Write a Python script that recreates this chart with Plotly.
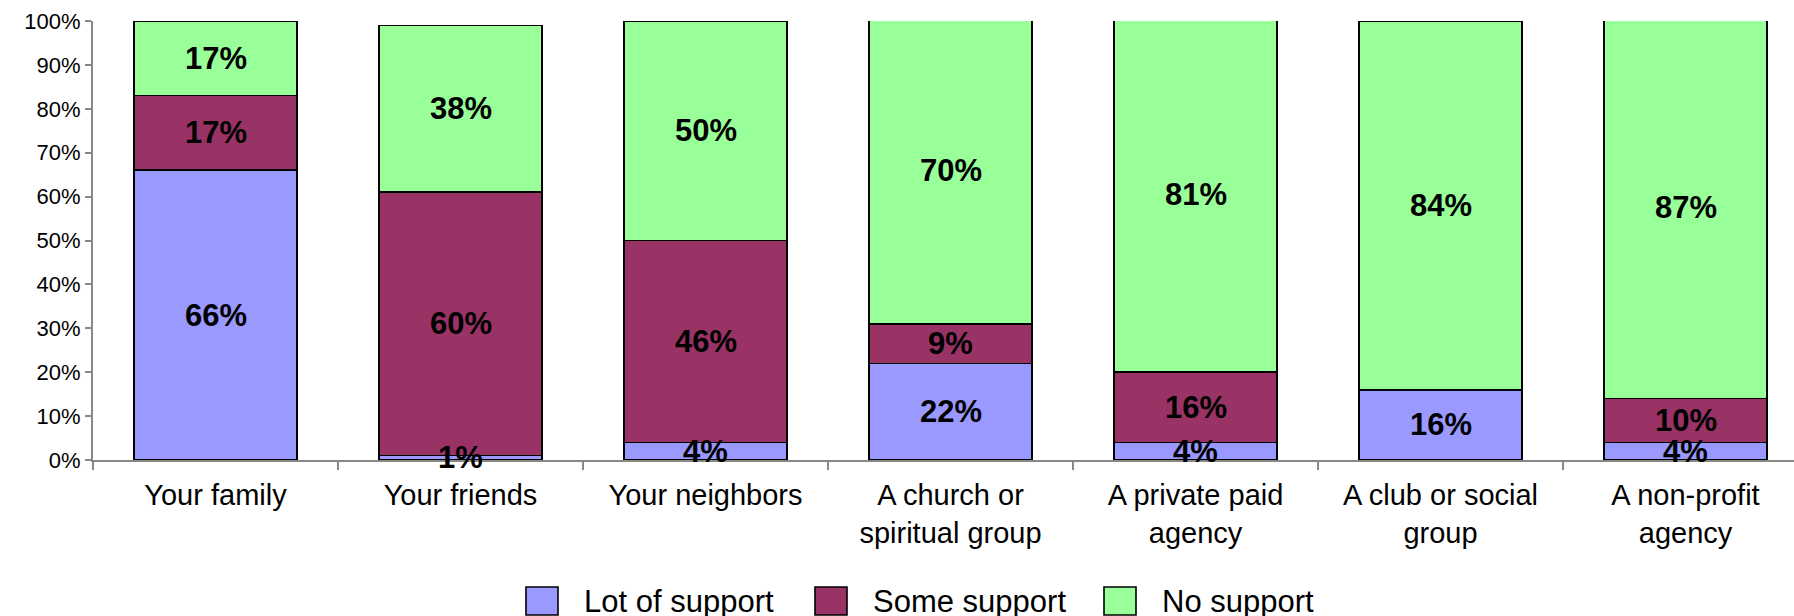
import plotly.graph_objects as go

# Survey: how much support each source gives
categories = [
    "Your family",
    "Your friends",
    "Your neighbors",
    "A church or<br>spiritual group",
    "A private paid<br>agency",
    "A club or social<br>group",
    "A non-profit<br>agency",
]
series_names = ["Lot of support", "Some support", "No support"]
lot_of_support = [66, 1, 4, 22, 4, 16, 4]
some_support = [17, 60, 46, 9, 16, 0, 10]
no_support = [17, 38, 50, 70, 81, 84, 87]
series_values = [lot_of_support, some_support, no_support]
series_colors = ["#9999FF", "#993366", "#99FF99"]

FONT = "Liberation Sans, Arial, sans-serif"
W, H = 1794, 616
M_L, M_R, M_T, M_B = 93, 0, 21, 156
plot_w = W - M_L - M_R
plot_h = H - M_T - M_B
cat_px = 245.0  # width of one category slot

fig = go.Figure()
for name, vals, color in zip(series_names, series_values, series_colors):
    fig.add_trace(go.Bar(
        x=categories,
        y=[v / 100 for v in vals],
        name=name,
        marker=dict(color=color, line=dict(color="#000000", width=1.6)),
        showlegend=False,
        hoverinfo="skip",
    ))

# value labels centred in each segment
annotations = []
base = [0.0] * len(categories)
for vals in series_values:
    for i, v in enumerate(vals):
        frac = v / 100
        if v > 0:
            annotations.append(dict(
                x=categories[i], y=base[i] + frac / 2, xref="x", yref="y",
                text=f"{v}%", showarrow=False,
                font=dict(family=FONT, size=31, color="#000000", weight="bold"),
            ))
        base[i] += frac

# legend drawn as large swatches with labels
shapes = []
legend_left_px = [526, 815, 1104]
sw_w, sw_h, sw_top = 32, 28, 587
for name, color, lx in zip(series_names, series_colors, legend_left_px):
    x0 = (lx - M_L) / plot_w
    x1 = (lx + sw_w - M_L) / plot_w
    y_top = (M_T + plot_h - sw_top) / plot_h
    y_bot = (M_T + plot_h - sw_top - sw_h) / plot_h
    shapes.append(dict(type="rect", xref="paper", yref="paper",
                       x0=x0, x1=x1, y0=y_bot, y1=y_top,
                       fillcolor=color, line=dict(color="#000000", width=1.6)))
    annotations.append(dict(
        x=(lx + sw_w + 24 - M_L) / plot_w,
        y=(M_T + plot_h - sw_top - sw_h / 2) / plot_h,
        xref="paper", yref="paper", xanchor="left", yanchor="middle",
        text=name, showarrow=False,
        font=dict(family=FONT, size=31, color="#000000"),
    ))

fig.update_layout(
    width=W, height=H,
    margin=dict(l=M_L, r=M_R, t=M_T, b=M_B, pad=0),
    barmode="stack",
    bargap=0.335,
    plot_bgcolor="#FFFFFF",
    paper_bgcolor="#FFFFFF",
    font=dict(family=FONT, color="#000000"),
    annotations=annotations,
    shapes=shapes,
    showlegend=False,
)
fig.update_xaxes(
    type="category",
    range=[-0.5, -0.5 + plot_w / cat_px],
    tickson="boundaries",
    ticks="outside", ticklen=8, tickwidth=2, tickcolor="#888888",
    showline=True, linecolor="#888888", linewidth=2,
    showgrid=False, zeroline=False,
    ticklabelstandoff=8,
    tickfont=dict(family=FONT, size=29, color="#000000"),
)
fig.update_yaxes(
    range=[0, 1], dtick=0.1, tickformat=".0%",
    ticks="outside", ticklen=6, tickwidth=2, tickcolor="#888888",
    showline=True, linecolor="#888888", linewidth=2,
    showgrid=False, zeroline=False,
    tickfont=dict(family=FONT, size=22, color="#000000"),
)

fig.write_html("out.html")
